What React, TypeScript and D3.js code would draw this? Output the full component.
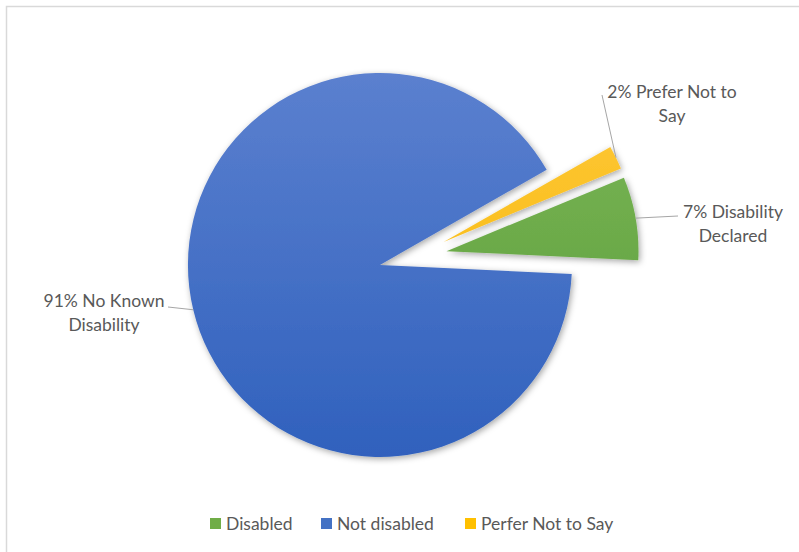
import { useEffect, useRef } from "react";
import * as d3 from "d3";

const categories = ["Disabled", "Not disabled", "Perfer Not to Say"];
const values = [7, 91, 2];
const labelLines = [
  ["7% Disability", "Declared"],
  ["91% No Known", "Disability"],
  ["2% Prefer Not to", "Say"],
];
const colorsTop = ["#7db85c", "#5b80cf", "#ffca40"];
const colorsBottom = ["#5a9c35", "#3061bd", "#f5b500"];
const legendColors = ["#70ad47", "#4472c4", "#ffc000"];

const width = 799;
const height = 552;

const App = () => {
  const svgRef = useRef<SVGSVGElement | null>(null);

  useEffect(() => {
    const svg = d3.select(svgRef.current);
    svg.selectAll("*").remove();

    // chart border
    svg
      .append("rect")
      .attr("x", 6.5)
      .attr("y", 6.5)
      .attr("width", 820)
      .attr("height", 580)
      .attr("fill", "#fff")
      .attr("stroke", "#d9d9d9")
      .attr("stroke-width", 1.5);

    const cx = 413,
      cy = 257,
      r = 192,
      explode = 34;

    const defs = svg.append("defs");
    const shadow = defs
      .append("filter")
      .attr("id", "shadow")
      .attr("x", "-20%")
      .attr("y", "-20%")
      .attr("width", "140%")
      .attr("height", "140%");
    shadow
      .append("feDropShadow")
      .attr("dx", 1.5)
      .attr("dy", 2)
      .attr("stdDeviation", 3)
      .attr("flood-color", "#000")
      .attr("flood-opacity", 0.35);

    // gradients in each slice's local (translated) space
    categories.forEach((_, i) => {
      const g = defs
        .append("linearGradient")
        .attr("id", `grad${i}`)
        .attr("gradientUnits", "userSpaceOnUse")
        .attr("x1", 0)
        .attr("y1", -r)
        .attr("x2", 0)
        .attr("y2", r);
      g.append("stop").attr("offset", "0%").attr("stop-color", colorsTop[i]);
      g.append("stop").attr("offset", "100%").attr("stop-color", colorsBottom[i]);
    });

    const start = (67.5 * Math.PI) / 180;
    const pie = d3
      .pie<number>()
      .sort(null)
      .startAngle(start)
      .endAngle(start + 2 * Math.PI);
    const arcs = pie(values);
    const arc = d3.arc<d3.PieArcDatum<number>>().innerRadius(0).outerRadius(r);

    const offset = (d: d3.PieArcDatum<number>) => {
      const a = (d.startAngle + d.endAngle) / 2;
      return [cx + explode * Math.sin(a), cy - explode * Math.cos(a)];
    };

    const pieG = svg.append("g").attr("filter", "url(#shadow)");
    pieG
      .selectAll("path")
      .data(arcs)
      .enter()
      .append("path")
      .attr("transform", (d) => {
        const [x, y] = offset(d);
        return `translate(${x},${y})`;
      })
      .attr("d", arc)
      .attr("fill", (_, i) => `url(#grad${i})`);

    // data labels with leader lines
    const labelPos = [
      { x: 733, y: 218, lx: 678, ly: 216 },
      { x: 104, y: 307, lx: 168, ly: 307 },
      { x: 672, y: 98, lx: 602, ly: 95 },
    ];
    const font = "Lato, 'Open Sans', sans-serif";
    const fontSize = 17.5;

    arcs.forEach((d, i) => {
      const [ox, oy] = offset(d);
      const a = (d.startAngle + d.endAngle) / 2;
      const ex = ox + r * Math.sin(a);
      const ey = oy - r * Math.cos(a);
      const p = labelPos[i];
      svg
        .append("line")
        .attr("x1", ex)
        .attr("y1", ey)
        .attr("x2", p.lx)
        .attr("y2", p.ly)
        .attr("stroke", "#a6a6a6")
        .attr("stroke-width", 1);
      const t = svg
        .append("text")
        .attr("text-anchor", "middle")
        .attr("font-family", font)
        .attr("font-size", fontSize)
        .attr("fill", "#595959");
      labelLines[i].forEach((line, j) => {
        t.append("tspan")
          .attr("x", p.x)
          .attr("y", p.y + j * 24)
          .text(line);
      });
    });

    // legend
    const legendX = [210, 321, 465];
    const legend = svg.append("g");
    categories.forEach((c, i) => {
      legend
        .append("rect")
        .attr("x", legendX[i])
        .attr("y", 518)
        .attr("width", 11)
        .attr("height", 11)
        .attr("fill", legendColors[i]);
      legend
        .append("text")
        .attr("x", legendX[i] + 16)
        .attr("y", 530)
        .attr("font-family", font)
        .attr("font-size", fontSize)
        .attr("fill", "#595959")
        .text(c);
    });
  }, []);

  return (
    <svg
      ref={svgRef}
      width={width}
      height={height}
      style={{ position: "absolute", left: 0, top: 0 }}
    ></svg>
  );
};

export default App;
